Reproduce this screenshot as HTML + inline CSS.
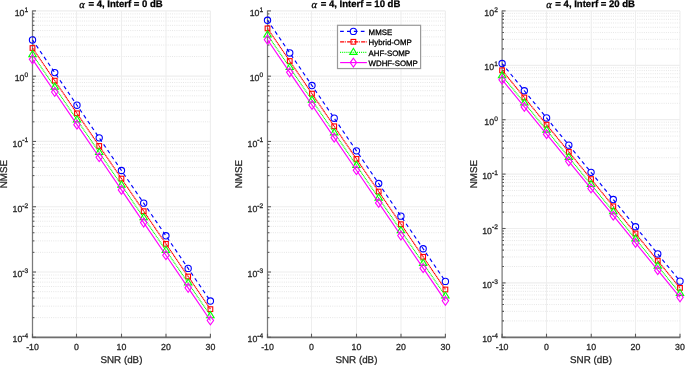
<!DOCTYPE html>
<html><head><meta charset="utf-8"><style>
html,body{margin:0;padding:0;background:#fff;width:685px;height:365px;overflow:hidden}
svg text{font-family:"Liberation Sans", sans-serif} svg{will-change:transform} svg text{text-rendering:geometricPrecision;stroke:currentColor;stroke-width:0.28px}
</style></head><body>
<svg width="685" height="365" viewBox="0 0 685 365" style="display:block">
<rect width="685" height="365" fill="#fff"/>
<line x1="33.50" y1="317.65" x2="210.40" y2="317.65" stroke="#d8d8d8" stroke-width="0.7" stroke-dasharray="0.9 1.3"/>
<line x1="33.50" y1="306.15" x2="210.40" y2="306.15" stroke="#d8d8d8" stroke-width="0.7" stroke-dasharray="0.9 1.3"/>
<line x1="33.50" y1="298.00" x2="210.40" y2="298.00" stroke="#d8d8d8" stroke-width="0.7" stroke-dasharray="0.9 1.3"/>
<line x1="33.50" y1="291.67" x2="210.40" y2="291.67" stroke="#d8d8d8" stroke-width="0.7" stroke-dasharray="0.9 1.3"/>
<line x1="33.50" y1="286.50" x2="210.40" y2="286.50" stroke="#d8d8d8" stroke-width="0.7" stroke-dasharray="0.9 1.3"/>
<line x1="33.50" y1="282.13" x2="210.40" y2="282.13" stroke="#d8d8d8" stroke-width="0.7" stroke-dasharray="0.9 1.3"/>
<line x1="33.50" y1="278.35" x2="210.40" y2="278.35" stroke="#d8d8d8" stroke-width="0.7" stroke-dasharray="0.9 1.3"/>
<line x1="33.50" y1="275.01" x2="210.40" y2="275.01" stroke="#d8d8d8" stroke-width="0.7" stroke-dasharray="0.9 1.3"/>
<line x1="33.50" y1="252.37" x2="210.40" y2="252.37" stroke="#d8d8d8" stroke-width="0.7" stroke-dasharray="0.9 1.3"/>
<line x1="33.50" y1="240.87" x2="210.40" y2="240.87" stroke="#d8d8d8" stroke-width="0.7" stroke-dasharray="0.9 1.3"/>
<line x1="33.50" y1="232.72" x2="210.40" y2="232.72" stroke="#d8d8d8" stroke-width="0.7" stroke-dasharray="0.9 1.3"/>
<line x1="33.50" y1="226.39" x2="210.40" y2="226.39" stroke="#d8d8d8" stroke-width="0.7" stroke-dasharray="0.9 1.3"/>
<line x1="33.50" y1="221.22" x2="210.40" y2="221.22" stroke="#d8d8d8" stroke-width="0.7" stroke-dasharray="0.9 1.3"/>
<line x1="33.50" y1="216.85" x2="210.40" y2="216.85" stroke="#d8d8d8" stroke-width="0.7" stroke-dasharray="0.9 1.3"/>
<line x1="33.50" y1="213.07" x2="210.40" y2="213.07" stroke="#d8d8d8" stroke-width="0.7" stroke-dasharray="0.9 1.3"/>
<line x1="33.50" y1="209.73" x2="210.40" y2="209.73" stroke="#d8d8d8" stroke-width="0.7" stroke-dasharray="0.9 1.3"/>
<line x1="33.50" y1="187.09" x2="210.40" y2="187.09" stroke="#d8d8d8" stroke-width="0.7" stroke-dasharray="0.9 1.3"/>
<line x1="33.50" y1="175.59" x2="210.40" y2="175.59" stroke="#d8d8d8" stroke-width="0.7" stroke-dasharray="0.9 1.3"/>
<line x1="33.50" y1="167.44" x2="210.40" y2="167.44" stroke="#d8d8d8" stroke-width="0.7" stroke-dasharray="0.9 1.3"/>
<line x1="33.50" y1="161.11" x2="210.40" y2="161.11" stroke="#d8d8d8" stroke-width="0.7" stroke-dasharray="0.9 1.3"/>
<line x1="33.50" y1="155.94" x2="210.40" y2="155.94" stroke="#d8d8d8" stroke-width="0.7" stroke-dasharray="0.9 1.3"/>
<line x1="33.50" y1="151.57" x2="210.40" y2="151.57" stroke="#d8d8d8" stroke-width="0.7" stroke-dasharray="0.9 1.3"/>
<line x1="33.50" y1="147.79" x2="210.40" y2="147.79" stroke="#d8d8d8" stroke-width="0.7" stroke-dasharray="0.9 1.3"/>
<line x1="33.50" y1="144.45" x2="210.40" y2="144.45" stroke="#d8d8d8" stroke-width="0.7" stroke-dasharray="0.9 1.3"/>
<line x1="33.50" y1="121.81" x2="210.40" y2="121.81" stroke="#d8d8d8" stroke-width="0.7" stroke-dasharray="0.9 1.3"/>
<line x1="33.50" y1="110.31" x2="210.40" y2="110.31" stroke="#d8d8d8" stroke-width="0.7" stroke-dasharray="0.9 1.3"/>
<line x1="33.50" y1="102.16" x2="210.40" y2="102.16" stroke="#d8d8d8" stroke-width="0.7" stroke-dasharray="0.9 1.3"/>
<line x1="33.50" y1="95.83" x2="210.40" y2="95.83" stroke="#d8d8d8" stroke-width="0.7" stroke-dasharray="0.9 1.3"/>
<line x1="33.50" y1="90.66" x2="210.40" y2="90.66" stroke="#d8d8d8" stroke-width="0.7" stroke-dasharray="0.9 1.3"/>
<line x1="33.50" y1="86.29" x2="210.40" y2="86.29" stroke="#d8d8d8" stroke-width="0.7" stroke-dasharray="0.9 1.3"/>
<line x1="33.50" y1="82.51" x2="210.40" y2="82.51" stroke="#d8d8d8" stroke-width="0.7" stroke-dasharray="0.9 1.3"/>
<line x1="33.50" y1="79.17" x2="210.40" y2="79.17" stroke="#d8d8d8" stroke-width="0.7" stroke-dasharray="0.9 1.3"/>
<line x1="33.50" y1="56.53" x2="210.40" y2="56.53" stroke="#d8d8d8" stroke-width="0.7" stroke-dasharray="0.9 1.3"/>
<line x1="33.50" y1="45.03" x2="210.40" y2="45.03" stroke="#d8d8d8" stroke-width="0.7" stroke-dasharray="0.9 1.3"/>
<line x1="33.50" y1="36.88" x2="210.40" y2="36.88" stroke="#d8d8d8" stroke-width="0.7" stroke-dasharray="0.9 1.3"/>
<line x1="33.50" y1="30.55" x2="210.40" y2="30.55" stroke="#d8d8d8" stroke-width="0.7" stroke-dasharray="0.9 1.3"/>
<line x1="33.50" y1="25.38" x2="210.40" y2="25.38" stroke="#d8d8d8" stroke-width="0.7" stroke-dasharray="0.9 1.3"/>
<line x1="33.50" y1="21.01" x2="210.40" y2="21.01" stroke="#d8d8d8" stroke-width="0.7" stroke-dasharray="0.9 1.3"/>
<line x1="33.50" y1="17.23" x2="210.40" y2="17.23" stroke="#d8d8d8" stroke-width="0.7" stroke-dasharray="0.9 1.3"/>
<line x1="33.50" y1="13.89" x2="210.40" y2="13.89" stroke="#d8d8d8" stroke-width="0.7" stroke-dasharray="0.9 1.3"/>
<line x1="32.50" y1="337.30" x2="210.40" y2="337.30" stroke="#eeeeee" stroke-width="1.2"/>
<line x1="32.50" y1="272.02" x2="210.40" y2="272.02" stroke="#eeeeee" stroke-width="1.2"/>
<line x1="32.50" y1="206.74" x2="210.40" y2="206.74" stroke="#eeeeee" stroke-width="1.2"/>
<line x1="32.50" y1="141.46" x2="210.40" y2="141.46" stroke="#eeeeee" stroke-width="1.2"/>
<line x1="32.50" y1="76.18" x2="210.40" y2="76.18" stroke="#eeeeee" stroke-width="1.2"/>
<line x1="32.50" y1="10.90" x2="210.40" y2="10.90" stroke="#eeeeee" stroke-width="1.2"/>
<line x1="76.50" y1="10.90" x2="76.50" y2="337.30" stroke="#eeeeee" stroke-width="1.1"/>
<line x1="121.50" y1="10.90" x2="121.50" y2="337.30" stroke="#eeeeee" stroke-width="1.1"/>
<line x1="166.00" y1="10.90" x2="166.00" y2="337.30" stroke="#eeeeee" stroke-width="1.1"/>
<line x1="210.40" y1="10.90" x2="210.40" y2="337.30" stroke="#eeeeee" stroke-width="1.1"/>
<line x1="32.50" y1="10.60" x2="32.50" y2="337.90" stroke="#7a7a7a" stroke-width="1.25"/>
<line x1="31.90" y1="337.40" x2="210.80" y2="337.40" stroke="#6e6e6e" stroke-width="1.6"/>
<line x1="32.50" y1="337.30" x2="36.00" y2="337.30" stroke="#5a5a5a" stroke-width="1.1"/>
<line x1="32.50" y1="317.65" x2="34.40" y2="317.65" stroke="#5a5a5a" stroke-width="1.1"/>
<line x1="32.50" y1="306.15" x2="34.40" y2="306.15" stroke="#5a5a5a" stroke-width="1.1"/>
<line x1="32.50" y1="298.00" x2="34.40" y2="298.00" stroke="#5a5a5a" stroke-width="1.1"/>
<line x1="32.50" y1="291.67" x2="34.40" y2="291.67" stroke="#5a5a5a" stroke-width="1.1"/>
<line x1="32.50" y1="286.50" x2="34.40" y2="286.50" stroke="#5a5a5a" stroke-width="1.1"/>
<line x1="32.50" y1="282.13" x2="34.40" y2="282.13" stroke="#5a5a5a" stroke-width="1.1"/>
<line x1="32.50" y1="278.35" x2="34.40" y2="278.35" stroke="#5a5a5a" stroke-width="1.1"/>
<line x1="32.50" y1="275.01" x2="34.40" y2="275.01" stroke="#5a5a5a" stroke-width="1.1"/>
<text x="28.20" y="342.40" text-anchor="end" font-size="8.8" fill="#262626" color="#262626">10<tspan font-size="6.6" dy="-4.2"><tspan style="stroke-width:0.55px">-</tspan>4</tspan></text>
<line x1="32.50" y1="272.02" x2="36.00" y2="272.02" stroke="#5a5a5a" stroke-width="1.1"/>
<line x1="32.50" y1="252.37" x2="34.40" y2="252.37" stroke="#5a5a5a" stroke-width="1.1"/>
<line x1="32.50" y1="240.87" x2="34.40" y2="240.87" stroke="#5a5a5a" stroke-width="1.1"/>
<line x1="32.50" y1="232.72" x2="34.40" y2="232.72" stroke="#5a5a5a" stroke-width="1.1"/>
<line x1="32.50" y1="226.39" x2="34.40" y2="226.39" stroke="#5a5a5a" stroke-width="1.1"/>
<line x1="32.50" y1="221.22" x2="34.40" y2="221.22" stroke="#5a5a5a" stroke-width="1.1"/>
<line x1="32.50" y1="216.85" x2="34.40" y2="216.85" stroke="#5a5a5a" stroke-width="1.1"/>
<line x1="32.50" y1="213.07" x2="34.40" y2="213.07" stroke="#5a5a5a" stroke-width="1.1"/>
<line x1="32.50" y1="209.73" x2="34.40" y2="209.73" stroke="#5a5a5a" stroke-width="1.1"/>
<text x="28.20" y="277.12" text-anchor="end" font-size="8.8" fill="#262626" color="#262626">10<tspan font-size="6.6" dy="-4.2"><tspan style="stroke-width:0.55px">-</tspan>3</tspan></text>
<line x1="32.50" y1="206.74" x2="36.00" y2="206.74" stroke="#5a5a5a" stroke-width="1.1"/>
<line x1="32.50" y1="187.09" x2="34.40" y2="187.09" stroke="#5a5a5a" stroke-width="1.1"/>
<line x1="32.50" y1="175.59" x2="34.40" y2="175.59" stroke="#5a5a5a" stroke-width="1.1"/>
<line x1="32.50" y1="167.44" x2="34.40" y2="167.44" stroke="#5a5a5a" stroke-width="1.1"/>
<line x1="32.50" y1="161.11" x2="34.40" y2="161.11" stroke="#5a5a5a" stroke-width="1.1"/>
<line x1="32.50" y1="155.94" x2="34.40" y2="155.94" stroke="#5a5a5a" stroke-width="1.1"/>
<line x1="32.50" y1="151.57" x2="34.40" y2="151.57" stroke="#5a5a5a" stroke-width="1.1"/>
<line x1="32.50" y1="147.79" x2="34.40" y2="147.79" stroke="#5a5a5a" stroke-width="1.1"/>
<line x1="32.50" y1="144.45" x2="34.40" y2="144.45" stroke="#5a5a5a" stroke-width="1.1"/>
<text x="28.20" y="211.84" text-anchor="end" font-size="8.8" fill="#262626" color="#262626">10<tspan font-size="6.6" dy="-4.2"><tspan style="stroke-width:0.55px">-</tspan>2</tspan></text>
<line x1="32.50" y1="141.46" x2="36.00" y2="141.46" stroke="#5a5a5a" stroke-width="1.1"/>
<line x1="32.50" y1="121.81" x2="34.40" y2="121.81" stroke="#5a5a5a" stroke-width="1.1"/>
<line x1="32.50" y1="110.31" x2="34.40" y2="110.31" stroke="#5a5a5a" stroke-width="1.1"/>
<line x1="32.50" y1="102.16" x2="34.40" y2="102.16" stroke="#5a5a5a" stroke-width="1.1"/>
<line x1="32.50" y1="95.83" x2="34.40" y2="95.83" stroke="#5a5a5a" stroke-width="1.1"/>
<line x1="32.50" y1="90.66" x2="34.40" y2="90.66" stroke="#5a5a5a" stroke-width="1.1"/>
<line x1="32.50" y1="86.29" x2="34.40" y2="86.29" stroke="#5a5a5a" stroke-width="1.1"/>
<line x1="32.50" y1="82.51" x2="34.40" y2="82.51" stroke="#5a5a5a" stroke-width="1.1"/>
<line x1="32.50" y1="79.17" x2="34.40" y2="79.17" stroke="#5a5a5a" stroke-width="1.1"/>
<text x="28.20" y="146.56" text-anchor="end" font-size="8.8" fill="#262626" color="#262626">10<tspan font-size="6.6" dy="-4.2"><tspan style="stroke-width:0.55px">-</tspan>1</tspan></text>
<line x1="32.50" y1="76.18" x2="36.00" y2="76.18" stroke="#5a5a5a" stroke-width="1.1"/>
<line x1="32.50" y1="56.53" x2="34.40" y2="56.53" stroke="#5a5a5a" stroke-width="1.1"/>
<line x1="32.50" y1="45.03" x2="34.40" y2="45.03" stroke="#5a5a5a" stroke-width="1.1"/>
<line x1="32.50" y1="36.88" x2="34.40" y2="36.88" stroke="#5a5a5a" stroke-width="1.1"/>
<line x1="32.50" y1="30.55" x2="34.40" y2="30.55" stroke="#5a5a5a" stroke-width="1.1"/>
<line x1="32.50" y1="25.38" x2="34.40" y2="25.38" stroke="#5a5a5a" stroke-width="1.1"/>
<line x1="32.50" y1="21.01" x2="34.40" y2="21.01" stroke="#5a5a5a" stroke-width="1.1"/>
<line x1="32.50" y1="17.23" x2="34.40" y2="17.23" stroke="#5a5a5a" stroke-width="1.1"/>
<line x1="32.50" y1="13.89" x2="34.40" y2="13.89" stroke="#5a5a5a" stroke-width="1.1"/>
<text x="28.20" y="81.28" text-anchor="end" font-size="8.8" fill="#262626" color="#262626">10<tspan font-size="6.6" dy="-4.2">0</tspan></text>
<line x1="32.50" y1="10.90" x2="36.00" y2="10.90" stroke="#5a5a5a" stroke-width="1.1"/>
<text x="28.20" y="16.00" text-anchor="end" font-size="8.8" fill="#262626" color="#262626">10<tspan font-size="6.6" dy="-4.2">1</tspan></text>
<line x1="32.50" y1="337.30" x2="32.50" y2="333.70" stroke="#5a5a5a" stroke-width="1.1"/>
<text x="32.50" y="349.50" text-anchor="middle" font-size="8.8" fill="#262626" color="#262626">-10</text>
<line x1="76.50" y1="337.30" x2="76.50" y2="333.70" stroke="#5a5a5a" stroke-width="1.1"/>
<text x="76.50" y="349.50" text-anchor="middle" font-size="8.8" fill="#262626" color="#262626">0</text>
<line x1="121.50" y1="337.30" x2="121.50" y2="333.70" stroke="#5a5a5a" stroke-width="1.1"/>
<text x="121.50" y="349.50" text-anchor="middle" font-size="8.8" fill="#262626" color="#262626">10</text>
<line x1="166.00" y1="337.30" x2="166.00" y2="333.70" stroke="#5a5a5a" stroke-width="1.1"/>
<text x="166.00" y="349.50" text-anchor="middle" font-size="8.8" fill="#262626" color="#262626">20</text>
<line x1="210.40" y1="337.30" x2="210.40" y2="333.70" stroke="#5a5a5a" stroke-width="1.1"/>
<text x="210.40" y="349.50" text-anchor="middle" font-size="8.8" fill="#262626" color="#262626">30</text>
<text x="121.45" y="362.6" text-anchor="middle" font-size="9.8" fill="#262626" color="#262626">SNR (dB)</text>
<text transform="translate(7.00,174.10) rotate(-90)" text-anchor="middle" font-size="9.8" fill="#262626" color="#262626">NMSE</text>
<text x="120.95" y="7.1" text-anchor="middle" font-size="9.55" font-weight="bold" fill="#000" color="#000"><tspan font-family="Liberation Serif" font-style="italic" font-weight="normal" font-size="10.6" dy="0.8">α</tspan><tspan dy="-0.8" dx="1.0"> = 4, Interf = 0 dB</tspan></text>
<polyline points="32.50,39.94 54.74,72.58 76.97,105.22 99.21,137.86 121.45,170.50 143.69,203.14 165.93,235.78 188.16,268.42 210.40,301.06" fill="none" stroke="#0000ff" stroke-width="1.15" stroke-dasharray="3.8 3.25" stroke-dashoffset="0.6"/>
<circle cx="32.50" cy="39.94" r="3.15" fill="none" stroke="#0000ff" stroke-width="1.1"/>
<circle cx="54.74" cy="72.58" r="3.15" fill="none" stroke="#0000ff" stroke-width="1.1"/>
<circle cx="76.97" cy="105.22" r="3.15" fill="none" stroke="#0000ff" stroke-width="1.1"/>
<circle cx="99.21" cy="137.86" r="3.15" fill="none" stroke="#0000ff" stroke-width="1.1"/>
<circle cx="121.45" cy="170.50" r="3.15" fill="none" stroke="#0000ff" stroke-width="1.1"/>
<circle cx="143.69" cy="203.14" r="3.15" fill="none" stroke="#0000ff" stroke-width="1.1"/>
<circle cx="165.93" cy="235.78" r="3.15" fill="none" stroke="#0000ff" stroke-width="1.1"/>
<circle cx="188.16" cy="268.42" r="3.15" fill="none" stroke="#0000ff" stroke-width="1.1"/>
<circle cx="210.40" cy="301.06" r="3.15" fill="none" stroke="#0000ff" stroke-width="1.1"/>
<polyline points="32.50,48.02 54.74,80.66 76.97,113.30 99.21,145.94 121.45,178.58 143.69,211.22 165.93,243.86 188.16,276.50 210.40,309.14" fill="none" stroke="#ff0000" stroke-width="1.15" stroke-dasharray="1.4 0.45"/>
<rect x="30.15" y="45.67" width="4.7" height="4.7" fill="none" stroke="#ff0000" stroke-width="1.1"/>
<rect x="52.39" y="78.31" width="4.7" height="4.7" fill="none" stroke="#ff0000" stroke-width="1.1"/>
<rect x="74.62" y="110.95" width="4.7" height="4.7" fill="none" stroke="#ff0000" stroke-width="1.1"/>
<rect x="96.86" y="143.59" width="4.7" height="4.7" fill="none" stroke="#ff0000" stroke-width="1.1"/>
<rect x="119.10" y="176.23" width="4.7" height="4.7" fill="none" stroke="#ff0000" stroke-width="1.1"/>
<rect x="141.34" y="208.87" width="4.7" height="4.7" fill="none" stroke="#ff0000" stroke-width="1.1"/>
<rect x="163.58" y="241.51" width="4.7" height="4.7" fill="none" stroke="#ff0000" stroke-width="1.1"/>
<rect x="185.81" y="274.15" width="4.7" height="4.7" fill="none" stroke="#ff0000" stroke-width="1.1"/>
<rect x="208.05" y="306.79" width="4.7" height="4.7" fill="none" stroke="#ff0000" stroke-width="1.1"/>
<polyline points="32.50,54.48 54.74,87.12 76.97,119.76 99.21,152.40 121.45,185.04 143.69,217.68 165.93,250.32 188.16,282.96 210.40,315.60" fill="none" stroke="#00ff00" stroke-width="1.15" stroke-dasharray="1 0.65"/>
<polygon points="32.50,50.48 36.20,56.58 28.80,56.58" fill="none" stroke="#00ff00" stroke-width="1.1" stroke-linejoin="miter"/>
<polygon points="54.74,83.12 58.44,89.22 51.04,89.22" fill="none" stroke="#00ff00" stroke-width="1.1" stroke-linejoin="miter"/>
<polygon points="76.97,115.76 80.67,121.86 73.27,121.86" fill="none" stroke="#00ff00" stroke-width="1.1" stroke-linejoin="miter"/>
<polygon points="99.21,148.40 102.91,154.50 95.51,154.50" fill="none" stroke="#00ff00" stroke-width="1.1" stroke-linejoin="miter"/>
<polygon points="121.45,181.04 125.15,187.14 117.75,187.14" fill="none" stroke="#00ff00" stroke-width="1.1" stroke-linejoin="miter"/>
<polygon points="143.69,213.68 147.39,219.78 139.99,219.78" fill="none" stroke="#00ff00" stroke-width="1.1" stroke-linejoin="miter"/>
<polygon points="165.93,246.32 169.62,252.42 162.23,252.42" fill="none" stroke="#00ff00" stroke-width="1.1" stroke-linejoin="miter"/>
<polygon points="188.16,278.96 191.86,285.06 184.46,285.06" fill="none" stroke="#00ff00" stroke-width="1.1" stroke-linejoin="miter"/>
<polygon points="210.40,311.60 214.10,317.70 206.70,317.70" fill="none" stroke="#00ff00" stroke-width="1.1" stroke-linejoin="miter"/>
<polyline points="32.50,59.36 54.74,92.00 76.97,124.64 99.21,157.28 121.45,189.92 143.69,222.56 165.93,255.20 188.16,287.84 210.40,320.48" fill="none" stroke="#ff00ff" stroke-width="1.15"/>
<polygon points="32.50,54.96 35.70,59.36 32.50,63.76 29.30,59.36" fill="none" stroke="#ff00ff" stroke-width="1.1"/>
<polygon points="54.74,87.60 57.94,92.00 54.74,96.40 51.54,92.00" fill="none" stroke="#ff00ff" stroke-width="1.1"/>
<polygon points="76.97,120.24 80.17,124.64 76.97,129.04 73.77,124.64" fill="none" stroke="#ff00ff" stroke-width="1.1"/>
<polygon points="99.21,152.88 102.41,157.28 99.21,161.68 96.01,157.28" fill="none" stroke="#ff00ff" stroke-width="1.1"/>
<polygon points="121.45,185.52 124.65,189.92 121.45,194.32 118.25,189.92" fill="none" stroke="#ff00ff" stroke-width="1.1"/>
<polygon points="143.69,218.16 146.89,222.56 143.69,226.96 140.49,222.56" fill="none" stroke="#ff00ff" stroke-width="1.1"/>
<polygon points="165.93,250.80 169.12,255.20 165.93,259.60 162.73,255.20" fill="none" stroke="#ff00ff" stroke-width="1.1"/>
<polygon points="188.16,283.44 191.36,287.84 188.16,292.24 184.96,287.84" fill="none" stroke="#ff00ff" stroke-width="1.1"/>
<polygon points="210.40,316.08 213.60,320.48 210.40,324.88 207.20,320.48" fill="none" stroke="#ff00ff" stroke-width="1.1"/>
<line x1="268.50" y1="317.65" x2="445.40" y2="317.65" stroke="#d8d8d8" stroke-width="0.7" stroke-dasharray="0.9 1.3"/>
<line x1="268.50" y1="306.15" x2="445.40" y2="306.15" stroke="#d8d8d8" stroke-width="0.7" stroke-dasharray="0.9 1.3"/>
<line x1="268.50" y1="298.00" x2="445.40" y2="298.00" stroke="#d8d8d8" stroke-width="0.7" stroke-dasharray="0.9 1.3"/>
<line x1="268.50" y1="291.67" x2="445.40" y2="291.67" stroke="#d8d8d8" stroke-width="0.7" stroke-dasharray="0.9 1.3"/>
<line x1="268.50" y1="286.50" x2="445.40" y2="286.50" stroke="#d8d8d8" stroke-width="0.7" stroke-dasharray="0.9 1.3"/>
<line x1="268.50" y1="282.13" x2="445.40" y2="282.13" stroke="#d8d8d8" stroke-width="0.7" stroke-dasharray="0.9 1.3"/>
<line x1="268.50" y1="278.35" x2="445.40" y2="278.35" stroke="#d8d8d8" stroke-width="0.7" stroke-dasharray="0.9 1.3"/>
<line x1="268.50" y1="275.01" x2="445.40" y2="275.01" stroke="#d8d8d8" stroke-width="0.7" stroke-dasharray="0.9 1.3"/>
<line x1="268.50" y1="252.37" x2="445.40" y2="252.37" stroke="#d8d8d8" stroke-width="0.7" stroke-dasharray="0.9 1.3"/>
<line x1="268.50" y1="240.87" x2="445.40" y2="240.87" stroke="#d8d8d8" stroke-width="0.7" stroke-dasharray="0.9 1.3"/>
<line x1="268.50" y1="232.72" x2="445.40" y2="232.72" stroke="#d8d8d8" stroke-width="0.7" stroke-dasharray="0.9 1.3"/>
<line x1="268.50" y1="226.39" x2="445.40" y2="226.39" stroke="#d8d8d8" stroke-width="0.7" stroke-dasharray="0.9 1.3"/>
<line x1="268.50" y1="221.22" x2="445.40" y2="221.22" stroke="#d8d8d8" stroke-width="0.7" stroke-dasharray="0.9 1.3"/>
<line x1="268.50" y1="216.85" x2="445.40" y2="216.85" stroke="#d8d8d8" stroke-width="0.7" stroke-dasharray="0.9 1.3"/>
<line x1="268.50" y1="213.07" x2="445.40" y2="213.07" stroke="#d8d8d8" stroke-width="0.7" stroke-dasharray="0.9 1.3"/>
<line x1="268.50" y1="209.73" x2="445.40" y2="209.73" stroke="#d8d8d8" stroke-width="0.7" stroke-dasharray="0.9 1.3"/>
<line x1="268.50" y1="187.09" x2="445.40" y2="187.09" stroke="#d8d8d8" stroke-width="0.7" stroke-dasharray="0.9 1.3"/>
<line x1="268.50" y1="175.59" x2="445.40" y2="175.59" stroke="#d8d8d8" stroke-width="0.7" stroke-dasharray="0.9 1.3"/>
<line x1="268.50" y1="167.44" x2="445.40" y2="167.44" stroke="#d8d8d8" stroke-width="0.7" stroke-dasharray="0.9 1.3"/>
<line x1="268.50" y1="161.11" x2="445.40" y2="161.11" stroke="#d8d8d8" stroke-width="0.7" stroke-dasharray="0.9 1.3"/>
<line x1="268.50" y1="155.94" x2="445.40" y2="155.94" stroke="#d8d8d8" stroke-width="0.7" stroke-dasharray="0.9 1.3"/>
<line x1="268.50" y1="151.57" x2="445.40" y2="151.57" stroke="#d8d8d8" stroke-width="0.7" stroke-dasharray="0.9 1.3"/>
<line x1="268.50" y1="147.79" x2="445.40" y2="147.79" stroke="#d8d8d8" stroke-width="0.7" stroke-dasharray="0.9 1.3"/>
<line x1="268.50" y1="144.45" x2="445.40" y2="144.45" stroke="#d8d8d8" stroke-width="0.7" stroke-dasharray="0.9 1.3"/>
<line x1="268.50" y1="121.81" x2="445.40" y2="121.81" stroke="#d8d8d8" stroke-width="0.7" stroke-dasharray="0.9 1.3"/>
<line x1="268.50" y1="110.31" x2="445.40" y2="110.31" stroke="#d8d8d8" stroke-width="0.7" stroke-dasharray="0.9 1.3"/>
<line x1="268.50" y1="102.16" x2="445.40" y2="102.16" stroke="#d8d8d8" stroke-width="0.7" stroke-dasharray="0.9 1.3"/>
<line x1="268.50" y1="95.83" x2="445.40" y2="95.83" stroke="#d8d8d8" stroke-width="0.7" stroke-dasharray="0.9 1.3"/>
<line x1="268.50" y1="90.66" x2="445.40" y2="90.66" stroke="#d8d8d8" stroke-width="0.7" stroke-dasharray="0.9 1.3"/>
<line x1="268.50" y1="86.29" x2="445.40" y2="86.29" stroke="#d8d8d8" stroke-width="0.7" stroke-dasharray="0.9 1.3"/>
<line x1="268.50" y1="82.51" x2="445.40" y2="82.51" stroke="#d8d8d8" stroke-width="0.7" stroke-dasharray="0.9 1.3"/>
<line x1="268.50" y1="79.17" x2="445.40" y2="79.17" stroke="#d8d8d8" stroke-width="0.7" stroke-dasharray="0.9 1.3"/>
<line x1="268.50" y1="56.53" x2="445.40" y2="56.53" stroke="#d8d8d8" stroke-width="0.7" stroke-dasharray="0.9 1.3"/>
<line x1="268.50" y1="45.03" x2="445.40" y2="45.03" stroke="#d8d8d8" stroke-width="0.7" stroke-dasharray="0.9 1.3"/>
<line x1="268.50" y1="36.88" x2="445.40" y2="36.88" stroke="#d8d8d8" stroke-width="0.7" stroke-dasharray="0.9 1.3"/>
<line x1="268.50" y1="30.55" x2="445.40" y2="30.55" stroke="#d8d8d8" stroke-width="0.7" stroke-dasharray="0.9 1.3"/>
<line x1="268.50" y1="25.38" x2="445.40" y2="25.38" stroke="#d8d8d8" stroke-width="0.7" stroke-dasharray="0.9 1.3"/>
<line x1="268.50" y1="21.01" x2="445.40" y2="21.01" stroke="#d8d8d8" stroke-width="0.7" stroke-dasharray="0.9 1.3"/>
<line x1="268.50" y1="17.23" x2="445.40" y2="17.23" stroke="#d8d8d8" stroke-width="0.7" stroke-dasharray="0.9 1.3"/>
<line x1="268.50" y1="13.89" x2="445.40" y2="13.89" stroke="#d8d8d8" stroke-width="0.7" stroke-dasharray="0.9 1.3"/>
<line x1="267.50" y1="337.30" x2="445.40" y2="337.30" stroke="#eeeeee" stroke-width="1.2"/>
<line x1="267.50" y1="272.02" x2="445.40" y2="272.02" stroke="#eeeeee" stroke-width="1.2"/>
<line x1="267.50" y1="206.74" x2="445.40" y2="206.74" stroke="#eeeeee" stroke-width="1.2"/>
<line x1="267.50" y1="141.46" x2="445.40" y2="141.46" stroke="#eeeeee" stroke-width="1.2"/>
<line x1="267.50" y1="76.18" x2="445.40" y2="76.18" stroke="#eeeeee" stroke-width="1.2"/>
<line x1="267.50" y1="10.90" x2="445.40" y2="10.90" stroke="#eeeeee" stroke-width="1.2"/>
<line x1="311.50" y1="10.90" x2="311.50" y2="337.30" stroke="#eeeeee" stroke-width="1.1"/>
<line x1="356.50" y1="10.90" x2="356.50" y2="337.30" stroke="#eeeeee" stroke-width="1.1"/>
<line x1="401.00" y1="10.90" x2="401.00" y2="337.30" stroke="#eeeeee" stroke-width="1.1"/>
<line x1="445.40" y1="10.90" x2="445.40" y2="337.30" stroke="#eeeeee" stroke-width="1.1"/>
<line x1="267.50" y1="10.60" x2="267.50" y2="337.90" stroke="#7a7a7a" stroke-width="1.25"/>
<line x1="266.90" y1="337.40" x2="445.80" y2="337.40" stroke="#6e6e6e" stroke-width="1.6"/>
<line x1="267.50" y1="337.30" x2="271.00" y2="337.30" stroke="#5a5a5a" stroke-width="1.1"/>
<line x1="267.50" y1="317.65" x2="269.40" y2="317.65" stroke="#5a5a5a" stroke-width="1.1"/>
<line x1="267.50" y1="306.15" x2="269.40" y2="306.15" stroke="#5a5a5a" stroke-width="1.1"/>
<line x1="267.50" y1="298.00" x2="269.40" y2="298.00" stroke="#5a5a5a" stroke-width="1.1"/>
<line x1="267.50" y1="291.67" x2="269.40" y2="291.67" stroke="#5a5a5a" stroke-width="1.1"/>
<line x1="267.50" y1="286.50" x2="269.40" y2="286.50" stroke="#5a5a5a" stroke-width="1.1"/>
<line x1="267.50" y1="282.13" x2="269.40" y2="282.13" stroke="#5a5a5a" stroke-width="1.1"/>
<line x1="267.50" y1="278.35" x2="269.40" y2="278.35" stroke="#5a5a5a" stroke-width="1.1"/>
<line x1="267.50" y1="275.01" x2="269.40" y2="275.01" stroke="#5a5a5a" stroke-width="1.1"/>
<text x="263.20" y="342.40" text-anchor="end" font-size="8.8" fill="#262626" color="#262626">10<tspan font-size="6.6" dy="-4.2"><tspan style="stroke-width:0.55px">-</tspan>4</tspan></text>
<line x1="267.50" y1="272.02" x2="271.00" y2="272.02" stroke="#5a5a5a" stroke-width="1.1"/>
<line x1="267.50" y1="252.37" x2="269.40" y2="252.37" stroke="#5a5a5a" stroke-width="1.1"/>
<line x1="267.50" y1="240.87" x2="269.40" y2="240.87" stroke="#5a5a5a" stroke-width="1.1"/>
<line x1="267.50" y1="232.72" x2="269.40" y2="232.72" stroke="#5a5a5a" stroke-width="1.1"/>
<line x1="267.50" y1="226.39" x2="269.40" y2="226.39" stroke="#5a5a5a" stroke-width="1.1"/>
<line x1="267.50" y1="221.22" x2="269.40" y2="221.22" stroke="#5a5a5a" stroke-width="1.1"/>
<line x1="267.50" y1="216.85" x2="269.40" y2="216.85" stroke="#5a5a5a" stroke-width="1.1"/>
<line x1="267.50" y1="213.07" x2="269.40" y2="213.07" stroke="#5a5a5a" stroke-width="1.1"/>
<line x1="267.50" y1="209.73" x2="269.40" y2="209.73" stroke="#5a5a5a" stroke-width="1.1"/>
<text x="263.20" y="277.12" text-anchor="end" font-size="8.8" fill="#262626" color="#262626">10<tspan font-size="6.6" dy="-4.2"><tspan style="stroke-width:0.55px">-</tspan>3</tspan></text>
<line x1="267.50" y1="206.74" x2="271.00" y2="206.74" stroke="#5a5a5a" stroke-width="1.1"/>
<line x1="267.50" y1="187.09" x2="269.40" y2="187.09" stroke="#5a5a5a" stroke-width="1.1"/>
<line x1="267.50" y1="175.59" x2="269.40" y2="175.59" stroke="#5a5a5a" stroke-width="1.1"/>
<line x1="267.50" y1="167.44" x2="269.40" y2="167.44" stroke="#5a5a5a" stroke-width="1.1"/>
<line x1="267.50" y1="161.11" x2="269.40" y2="161.11" stroke="#5a5a5a" stroke-width="1.1"/>
<line x1="267.50" y1="155.94" x2="269.40" y2="155.94" stroke="#5a5a5a" stroke-width="1.1"/>
<line x1="267.50" y1="151.57" x2="269.40" y2="151.57" stroke="#5a5a5a" stroke-width="1.1"/>
<line x1="267.50" y1="147.79" x2="269.40" y2="147.79" stroke="#5a5a5a" stroke-width="1.1"/>
<line x1="267.50" y1="144.45" x2="269.40" y2="144.45" stroke="#5a5a5a" stroke-width="1.1"/>
<text x="263.20" y="211.84" text-anchor="end" font-size="8.8" fill="#262626" color="#262626">10<tspan font-size="6.6" dy="-4.2"><tspan style="stroke-width:0.55px">-</tspan>2</tspan></text>
<line x1="267.50" y1="141.46" x2="271.00" y2="141.46" stroke="#5a5a5a" stroke-width="1.1"/>
<line x1="267.50" y1="121.81" x2="269.40" y2="121.81" stroke="#5a5a5a" stroke-width="1.1"/>
<line x1="267.50" y1="110.31" x2="269.40" y2="110.31" stroke="#5a5a5a" stroke-width="1.1"/>
<line x1="267.50" y1="102.16" x2="269.40" y2="102.16" stroke="#5a5a5a" stroke-width="1.1"/>
<line x1="267.50" y1="95.83" x2="269.40" y2="95.83" stroke="#5a5a5a" stroke-width="1.1"/>
<line x1="267.50" y1="90.66" x2="269.40" y2="90.66" stroke="#5a5a5a" stroke-width="1.1"/>
<line x1="267.50" y1="86.29" x2="269.40" y2="86.29" stroke="#5a5a5a" stroke-width="1.1"/>
<line x1="267.50" y1="82.51" x2="269.40" y2="82.51" stroke="#5a5a5a" stroke-width="1.1"/>
<line x1="267.50" y1="79.17" x2="269.40" y2="79.17" stroke="#5a5a5a" stroke-width="1.1"/>
<text x="263.20" y="146.56" text-anchor="end" font-size="8.8" fill="#262626" color="#262626">10<tspan font-size="6.6" dy="-4.2"><tspan style="stroke-width:0.55px">-</tspan>1</tspan></text>
<line x1="267.50" y1="76.18" x2="271.00" y2="76.18" stroke="#5a5a5a" stroke-width="1.1"/>
<line x1="267.50" y1="56.53" x2="269.40" y2="56.53" stroke="#5a5a5a" stroke-width="1.1"/>
<line x1="267.50" y1="45.03" x2="269.40" y2="45.03" stroke="#5a5a5a" stroke-width="1.1"/>
<line x1="267.50" y1="36.88" x2="269.40" y2="36.88" stroke="#5a5a5a" stroke-width="1.1"/>
<line x1="267.50" y1="30.55" x2="269.40" y2="30.55" stroke="#5a5a5a" stroke-width="1.1"/>
<line x1="267.50" y1="25.38" x2="269.40" y2="25.38" stroke="#5a5a5a" stroke-width="1.1"/>
<line x1="267.50" y1="21.01" x2="269.40" y2="21.01" stroke="#5a5a5a" stroke-width="1.1"/>
<line x1="267.50" y1="17.23" x2="269.40" y2="17.23" stroke="#5a5a5a" stroke-width="1.1"/>
<line x1="267.50" y1="13.89" x2="269.40" y2="13.89" stroke="#5a5a5a" stroke-width="1.1"/>
<text x="263.20" y="81.28" text-anchor="end" font-size="8.8" fill="#262626" color="#262626">10<tspan font-size="6.6" dy="-4.2">0</tspan></text>
<line x1="267.50" y1="10.90" x2="271.00" y2="10.90" stroke="#5a5a5a" stroke-width="1.1"/>
<text x="263.20" y="16.00" text-anchor="end" font-size="8.8" fill="#262626" color="#262626">10<tspan font-size="6.6" dy="-4.2">1</tspan></text>
<line x1="267.50" y1="337.30" x2="267.50" y2="333.70" stroke="#5a5a5a" stroke-width="1.1"/>
<text x="267.50" y="349.50" text-anchor="middle" font-size="8.8" fill="#262626" color="#262626">-10</text>
<line x1="311.50" y1="337.30" x2="311.50" y2="333.70" stroke="#5a5a5a" stroke-width="1.1"/>
<text x="311.50" y="349.50" text-anchor="middle" font-size="8.8" fill="#262626" color="#262626">0</text>
<line x1="356.50" y1="337.30" x2="356.50" y2="333.70" stroke="#5a5a5a" stroke-width="1.1"/>
<text x="356.50" y="349.50" text-anchor="middle" font-size="8.8" fill="#262626" color="#262626">10</text>
<line x1="401.00" y1="337.30" x2="401.00" y2="333.70" stroke="#5a5a5a" stroke-width="1.1"/>
<text x="401.00" y="349.50" text-anchor="middle" font-size="8.8" fill="#262626" color="#262626">20</text>
<line x1="445.40" y1="337.30" x2="445.40" y2="333.70" stroke="#5a5a5a" stroke-width="1.1"/>
<text x="445.40" y="349.50" text-anchor="middle" font-size="8.8" fill="#262626" color="#262626">30</text>
<text x="356.45" y="362.6" text-anchor="middle" font-size="9.8" fill="#262626" color="#262626">SNR (dB)</text>
<text transform="translate(242.00,174.10) rotate(-90)" text-anchor="middle" font-size="9.8" fill="#262626" color="#262626">NMSE</text>
<text x="355.95" y="7.1" text-anchor="middle" font-size="9.55" font-weight="bold" fill="#000" color="#000"><tspan font-family="Liberation Serif" font-style="italic" font-weight="normal" font-size="10.6" dy="0.8">α</tspan><tspan dy="-0.8" dx="1.0"> = 4, Interf = 10 dB</tspan></text>
<polyline points="267.50,20.29 289.74,52.93 311.98,85.57 334.21,118.21 356.45,150.85 378.69,183.49 400.93,216.13 423.16,248.77 445.40,281.41" fill="none" stroke="#0000ff" stroke-width="1.15" stroke-dasharray="3.8 3.25" stroke-dashoffset="0.6"/>
<circle cx="267.50" cy="20.29" r="3.15" fill="none" stroke="#0000ff" stroke-width="1.1"/>
<circle cx="289.74" cy="52.93" r="3.15" fill="none" stroke="#0000ff" stroke-width="1.1"/>
<circle cx="311.98" cy="85.57" r="3.15" fill="none" stroke="#0000ff" stroke-width="1.1"/>
<circle cx="334.21" cy="118.21" r="3.15" fill="none" stroke="#0000ff" stroke-width="1.1"/>
<circle cx="356.45" cy="150.85" r="3.15" fill="none" stroke="#0000ff" stroke-width="1.1"/>
<circle cx="378.69" cy="183.49" r="3.15" fill="none" stroke="#0000ff" stroke-width="1.1"/>
<circle cx="400.93" cy="216.13" r="3.15" fill="none" stroke="#0000ff" stroke-width="1.1"/>
<circle cx="423.16" cy="248.77" r="3.15" fill="none" stroke="#0000ff" stroke-width="1.1"/>
<circle cx="445.40" cy="281.41" r="3.15" fill="none" stroke="#0000ff" stroke-width="1.1"/>
<polyline points="267.50,28.37 289.74,61.01 311.98,93.65 334.21,126.29 356.45,158.93 378.69,191.57 400.93,224.21 423.16,256.85 445.40,289.49" fill="none" stroke="#ff0000" stroke-width="1.15" stroke-dasharray="1.4 0.45"/>
<rect x="265.15" y="26.02" width="4.7" height="4.7" fill="none" stroke="#ff0000" stroke-width="1.1"/>
<rect x="287.39" y="58.66" width="4.7" height="4.7" fill="none" stroke="#ff0000" stroke-width="1.1"/>
<rect x="309.62" y="91.30" width="4.7" height="4.7" fill="none" stroke="#ff0000" stroke-width="1.1"/>
<rect x="331.86" y="123.94" width="4.7" height="4.7" fill="none" stroke="#ff0000" stroke-width="1.1"/>
<rect x="354.10" y="156.58" width="4.7" height="4.7" fill="none" stroke="#ff0000" stroke-width="1.1"/>
<rect x="376.34" y="189.22" width="4.7" height="4.7" fill="none" stroke="#ff0000" stroke-width="1.1"/>
<rect x="398.57" y="221.86" width="4.7" height="4.7" fill="none" stroke="#ff0000" stroke-width="1.1"/>
<rect x="420.81" y="254.50" width="4.7" height="4.7" fill="none" stroke="#ff0000" stroke-width="1.1"/>
<rect x="443.05" y="287.14" width="4.7" height="4.7" fill="none" stroke="#ff0000" stroke-width="1.1"/>
<polyline points="267.50,34.83 289.74,67.47 311.98,100.11 334.21,132.75 356.45,165.39 378.69,198.03 400.93,230.67 423.16,263.31 445.40,295.95" fill="none" stroke="#00ff00" stroke-width="1.15" stroke-dasharray="1 0.65"/>
<polygon points="267.50,30.83 271.20,36.93 263.80,36.93" fill="none" stroke="#00ff00" stroke-width="1.1" stroke-linejoin="miter"/>
<polygon points="289.74,63.47 293.44,69.57 286.04,69.57" fill="none" stroke="#00ff00" stroke-width="1.1" stroke-linejoin="miter"/>
<polygon points="311.98,96.11 315.68,102.21 308.28,102.21" fill="none" stroke="#00ff00" stroke-width="1.1" stroke-linejoin="miter"/>
<polygon points="334.21,128.75 337.91,134.85 330.51,134.85" fill="none" stroke="#00ff00" stroke-width="1.1" stroke-linejoin="miter"/>
<polygon points="356.45,161.39 360.15,167.49 352.75,167.49" fill="none" stroke="#00ff00" stroke-width="1.1" stroke-linejoin="miter"/>
<polygon points="378.69,194.03 382.39,200.13 374.99,200.13" fill="none" stroke="#00ff00" stroke-width="1.1" stroke-linejoin="miter"/>
<polygon points="400.93,226.67 404.62,232.77 397.23,232.77" fill="none" stroke="#00ff00" stroke-width="1.1" stroke-linejoin="miter"/>
<polygon points="423.16,259.31 426.86,265.41 419.46,265.41" fill="none" stroke="#00ff00" stroke-width="1.1" stroke-linejoin="miter"/>
<polygon points="445.40,291.95 449.10,298.05 441.70,298.05" fill="none" stroke="#00ff00" stroke-width="1.1" stroke-linejoin="miter"/>
<polyline points="267.50,39.71 289.74,72.35 311.98,104.99 334.21,137.63 356.45,170.27 378.69,202.91 400.93,235.55 423.16,268.19 445.40,300.83" fill="none" stroke="#ff00ff" stroke-width="1.15"/>
<polygon points="267.50,35.31 270.70,39.71 267.50,44.11 264.30,39.71" fill="none" stroke="#ff00ff" stroke-width="1.1"/>
<polygon points="289.74,67.95 292.94,72.35 289.74,76.75 286.54,72.35" fill="none" stroke="#ff00ff" stroke-width="1.1"/>
<polygon points="311.98,100.59 315.18,104.99 311.98,109.39 308.78,104.99" fill="none" stroke="#ff00ff" stroke-width="1.1"/>
<polygon points="334.21,133.23 337.41,137.63 334.21,142.03 331.01,137.63" fill="none" stroke="#ff00ff" stroke-width="1.1"/>
<polygon points="356.45,165.87 359.65,170.27 356.45,174.67 353.25,170.27" fill="none" stroke="#ff00ff" stroke-width="1.1"/>
<polygon points="378.69,198.51 381.89,202.91 378.69,207.31 375.49,202.91" fill="none" stroke="#ff00ff" stroke-width="1.1"/>
<polygon points="400.93,231.15 404.12,235.55 400.93,239.95 397.73,235.55" fill="none" stroke="#ff00ff" stroke-width="1.1"/>
<polygon points="423.16,263.79 426.36,268.19 423.16,272.59 419.96,268.19" fill="none" stroke="#ff00ff" stroke-width="1.1"/>
<polygon points="445.40,296.43 448.60,300.83 445.40,305.23 442.20,300.83" fill="none" stroke="#ff00ff" stroke-width="1.1"/>
<line x1="503.10" y1="320.92" x2="680.00" y2="320.92" stroke="#d8d8d8" stroke-width="0.7" stroke-dasharray="0.9 1.3"/>
<line x1="503.10" y1="311.34" x2="680.00" y2="311.34" stroke="#d8d8d8" stroke-width="0.7" stroke-dasharray="0.9 1.3"/>
<line x1="503.10" y1="304.55" x2="680.00" y2="304.55" stroke="#d8d8d8" stroke-width="0.7" stroke-dasharray="0.9 1.3"/>
<line x1="503.10" y1="299.28" x2="680.00" y2="299.28" stroke="#d8d8d8" stroke-width="0.7" stroke-dasharray="0.9 1.3"/>
<line x1="503.10" y1="294.97" x2="680.00" y2="294.97" stroke="#d8d8d8" stroke-width="0.7" stroke-dasharray="0.9 1.3"/>
<line x1="503.10" y1="291.33" x2="680.00" y2="291.33" stroke="#d8d8d8" stroke-width="0.7" stroke-dasharray="0.9 1.3"/>
<line x1="503.10" y1="288.17" x2="680.00" y2="288.17" stroke="#d8d8d8" stroke-width="0.7" stroke-dasharray="0.9 1.3"/>
<line x1="503.10" y1="285.39" x2="680.00" y2="285.39" stroke="#d8d8d8" stroke-width="0.7" stroke-dasharray="0.9 1.3"/>
<line x1="503.10" y1="266.52" x2="680.00" y2="266.52" stroke="#d8d8d8" stroke-width="0.7" stroke-dasharray="0.9 1.3"/>
<line x1="503.10" y1="256.94" x2="680.00" y2="256.94" stroke="#d8d8d8" stroke-width="0.7" stroke-dasharray="0.9 1.3"/>
<line x1="503.10" y1="250.15" x2="680.00" y2="250.15" stroke="#d8d8d8" stroke-width="0.7" stroke-dasharray="0.9 1.3"/>
<line x1="503.10" y1="244.88" x2="680.00" y2="244.88" stroke="#d8d8d8" stroke-width="0.7" stroke-dasharray="0.9 1.3"/>
<line x1="503.10" y1="240.57" x2="680.00" y2="240.57" stroke="#d8d8d8" stroke-width="0.7" stroke-dasharray="0.9 1.3"/>
<line x1="503.10" y1="236.93" x2="680.00" y2="236.93" stroke="#d8d8d8" stroke-width="0.7" stroke-dasharray="0.9 1.3"/>
<line x1="503.10" y1="233.77" x2="680.00" y2="233.77" stroke="#d8d8d8" stroke-width="0.7" stroke-dasharray="0.9 1.3"/>
<line x1="503.10" y1="230.99" x2="680.00" y2="230.99" stroke="#d8d8d8" stroke-width="0.7" stroke-dasharray="0.9 1.3"/>
<line x1="503.10" y1="212.12" x2="680.00" y2="212.12" stroke="#d8d8d8" stroke-width="0.7" stroke-dasharray="0.9 1.3"/>
<line x1="503.10" y1="202.54" x2="680.00" y2="202.54" stroke="#d8d8d8" stroke-width="0.7" stroke-dasharray="0.9 1.3"/>
<line x1="503.10" y1="195.75" x2="680.00" y2="195.75" stroke="#d8d8d8" stroke-width="0.7" stroke-dasharray="0.9 1.3"/>
<line x1="503.10" y1="190.48" x2="680.00" y2="190.48" stroke="#d8d8d8" stroke-width="0.7" stroke-dasharray="0.9 1.3"/>
<line x1="503.10" y1="186.17" x2="680.00" y2="186.17" stroke="#d8d8d8" stroke-width="0.7" stroke-dasharray="0.9 1.3"/>
<line x1="503.10" y1="182.53" x2="680.00" y2="182.53" stroke="#d8d8d8" stroke-width="0.7" stroke-dasharray="0.9 1.3"/>
<line x1="503.10" y1="179.37" x2="680.00" y2="179.37" stroke="#d8d8d8" stroke-width="0.7" stroke-dasharray="0.9 1.3"/>
<line x1="503.10" y1="176.59" x2="680.00" y2="176.59" stroke="#d8d8d8" stroke-width="0.7" stroke-dasharray="0.9 1.3"/>
<line x1="503.10" y1="157.72" x2="680.00" y2="157.72" stroke="#d8d8d8" stroke-width="0.7" stroke-dasharray="0.9 1.3"/>
<line x1="503.10" y1="148.14" x2="680.00" y2="148.14" stroke="#d8d8d8" stroke-width="0.7" stroke-dasharray="0.9 1.3"/>
<line x1="503.10" y1="141.35" x2="680.00" y2="141.35" stroke="#d8d8d8" stroke-width="0.7" stroke-dasharray="0.9 1.3"/>
<line x1="503.10" y1="136.08" x2="680.00" y2="136.08" stroke="#d8d8d8" stroke-width="0.7" stroke-dasharray="0.9 1.3"/>
<line x1="503.10" y1="131.77" x2="680.00" y2="131.77" stroke="#d8d8d8" stroke-width="0.7" stroke-dasharray="0.9 1.3"/>
<line x1="503.10" y1="128.13" x2="680.00" y2="128.13" stroke="#d8d8d8" stroke-width="0.7" stroke-dasharray="0.9 1.3"/>
<line x1="503.10" y1="124.97" x2="680.00" y2="124.97" stroke="#d8d8d8" stroke-width="0.7" stroke-dasharray="0.9 1.3"/>
<line x1="503.10" y1="122.19" x2="680.00" y2="122.19" stroke="#d8d8d8" stroke-width="0.7" stroke-dasharray="0.9 1.3"/>
<line x1="503.10" y1="103.32" x2="680.00" y2="103.32" stroke="#d8d8d8" stroke-width="0.7" stroke-dasharray="0.9 1.3"/>
<line x1="503.10" y1="93.74" x2="680.00" y2="93.74" stroke="#d8d8d8" stroke-width="0.7" stroke-dasharray="0.9 1.3"/>
<line x1="503.10" y1="86.95" x2="680.00" y2="86.95" stroke="#d8d8d8" stroke-width="0.7" stroke-dasharray="0.9 1.3"/>
<line x1="503.10" y1="81.68" x2="680.00" y2="81.68" stroke="#d8d8d8" stroke-width="0.7" stroke-dasharray="0.9 1.3"/>
<line x1="503.10" y1="77.37" x2="680.00" y2="77.37" stroke="#d8d8d8" stroke-width="0.7" stroke-dasharray="0.9 1.3"/>
<line x1="503.10" y1="73.73" x2="680.00" y2="73.73" stroke="#d8d8d8" stroke-width="0.7" stroke-dasharray="0.9 1.3"/>
<line x1="503.10" y1="70.57" x2="680.00" y2="70.57" stroke="#d8d8d8" stroke-width="0.7" stroke-dasharray="0.9 1.3"/>
<line x1="503.10" y1="67.79" x2="680.00" y2="67.79" stroke="#d8d8d8" stroke-width="0.7" stroke-dasharray="0.9 1.3"/>
<line x1="503.10" y1="48.92" x2="680.00" y2="48.92" stroke="#d8d8d8" stroke-width="0.7" stroke-dasharray="0.9 1.3"/>
<line x1="503.10" y1="39.34" x2="680.00" y2="39.34" stroke="#d8d8d8" stroke-width="0.7" stroke-dasharray="0.9 1.3"/>
<line x1="503.10" y1="32.55" x2="680.00" y2="32.55" stroke="#d8d8d8" stroke-width="0.7" stroke-dasharray="0.9 1.3"/>
<line x1="503.10" y1="27.28" x2="680.00" y2="27.28" stroke="#d8d8d8" stroke-width="0.7" stroke-dasharray="0.9 1.3"/>
<line x1="503.10" y1="22.97" x2="680.00" y2="22.97" stroke="#d8d8d8" stroke-width="0.7" stroke-dasharray="0.9 1.3"/>
<line x1="503.10" y1="19.33" x2="680.00" y2="19.33" stroke="#d8d8d8" stroke-width="0.7" stroke-dasharray="0.9 1.3"/>
<line x1="503.10" y1="16.17" x2="680.00" y2="16.17" stroke="#d8d8d8" stroke-width="0.7" stroke-dasharray="0.9 1.3"/>
<line x1="503.10" y1="13.39" x2="680.00" y2="13.39" stroke="#d8d8d8" stroke-width="0.7" stroke-dasharray="0.9 1.3"/>
<line x1="502.10" y1="337.30" x2="680.00" y2="337.30" stroke="#eeeeee" stroke-width="1.2"/>
<line x1="502.10" y1="282.90" x2="680.00" y2="282.90" stroke="#eeeeee" stroke-width="1.2"/>
<line x1="502.10" y1="228.50" x2="680.00" y2="228.50" stroke="#eeeeee" stroke-width="1.2"/>
<line x1="502.10" y1="174.10" x2="680.00" y2="174.10" stroke="#eeeeee" stroke-width="1.2"/>
<line x1="502.10" y1="119.70" x2="680.00" y2="119.70" stroke="#eeeeee" stroke-width="1.2"/>
<line x1="502.10" y1="65.30" x2="680.00" y2="65.30" stroke="#eeeeee" stroke-width="1.2"/>
<line x1="502.10" y1="10.90" x2="680.00" y2="10.90" stroke="#eeeeee" stroke-width="1.2"/>
<line x1="546.50" y1="10.90" x2="546.50" y2="337.30" stroke="#eeeeee" stroke-width="1.1"/>
<line x1="591.25" y1="10.90" x2="591.25" y2="337.30" stroke="#eeeeee" stroke-width="1.1"/>
<line x1="635.50" y1="10.90" x2="635.50" y2="337.30" stroke="#eeeeee" stroke-width="1.1"/>
<line x1="680.00" y1="10.90" x2="680.00" y2="337.30" stroke="#eeeeee" stroke-width="1.1"/>
<line x1="502.10" y1="10.60" x2="502.10" y2="337.90" stroke="#7a7a7a" stroke-width="1.25"/>
<line x1="501.50" y1="337.40" x2="680.40" y2="337.40" stroke="#6e6e6e" stroke-width="1.6"/>
<line x1="502.10" y1="337.30" x2="505.60" y2="337.30" stroke="#5a5a5a" stroke-width="1.1"/>
<line x1="502.10" y1="320.92" x2="504.00" y2="320.92" stroke="#5a5a5a" stroke-width="1.1"/>
<line x1="502.10" y1="311.34" x2="504.00" y2="311.34" stroke="#5a5a5a" stroke-width="1.1"/>
<line x1="502.10" y1="304.55" x2="504.00" y2="304.55" stroke="#5a5a5a" stroke-width="1.1"/>
<line x1="502.10" y1="299.28" x2="504.00" y2="299.28" stroke="#5a5a5a" stroke-width="1.1"/>
<line x1="502.10" y1="294.97" x2="504.00" y2="294.97" stroke="#5a5a5a" stroke-width="1.1"/>
<line x1="502.10" y1="291.33" x2="504.00" y2="291.33" stroke="#5a5a5a" stroke-width="1.1"/>
<line x1="502.10" y1="288.17" x2="504.00" y2="288.17" stroke="#5a5a5a" stroke-width="1.1"/>
<line x1="502.10" y1="285.39" x2="504.00" y2="285.39" stroke="#5a5a5a" stroke-width="1.1"/>
<text x="497.80" y="342.40" text-anchor="end" font-size="8.8" fill="#262626" color="#262626">10<tspan font-size="6.6" dy="-4.2"><tspan style="stroke-width:0.55px">-</tspan>4</tspan></text>
<line x1="502.10" y1="282.90" x2="505.60" y2="282.90" stroke="#5a5a5a" stroke-width="1.1"/>
<line x1="502.10" y1="266.52" x2="504.00" y2="266.52" stroke="#5a5a5a" stroke-width="1.1"/>
<line x1="502.10" y1="256.94" x2="504.00" y2="256.94" stroke="#5a5a5a" stroke-width="1.1"/>
<line x1="502.10" y1="250.15" x2="504.00" y2="250.15" stroke="#5a5a5a" stroke-width="1.1"/>
<line x1="502.10" y1="244.88" x2="504.00" y2="244.88" stroke="#5a5a5a" stroke-width="1.1"/>
<line x1="502.10" y1="240.57" x2="504.00" y2="240.57" stroke="#5a5a5a" stroke-width="1.1"/>
<line x1="502.10" y1="236.93" x2="504.00" y2="236.93" stroke="#5a5a5a" stroke-width="1.1"/>
<line x1="502.10" y1="233.77" x2="504.00" y2="233.77" stroke="#5a5a5a" stroke-width="1.1"/>
<line x1="502.10" y1="230.99" x2="504.00" y2="230.99" stroke="#5a5a5a" stroke-width="1.1"/>
<text x="497.80" y="288.00" text-anchor="end" font-size="8.8" fill="#262626" color="#262626">10<tspan font-size="6.6" dy="-4.2"><tspan style="stroke-width:0.55px">-</tspan>3</tspan></text>
<line x1="502.10" y1="228.50" x2="505.60" y2="228.50" stroke="#5a5a5a" stroke-width="1.1"/>
<line x1="502.10" y1="212.12" x2="504.00" y2="212.12" stroke="#5a5a5a" stroke-width="1.1"/>
<line x1="502.10" y1="202.54" x2="504.00" y2="202.54" stroke="#5a5a5a" stroke-width="1.1"/>
<line x1="502.10" y1="195.75" x2="504.00" y2="195.75" stroke="#5a5a5a" stroke-width="1.1"/>
<line x1="502.10" y1="190.48" x2="504.00" y2="190.48" stroke="#5a5a5a" stroke-width="1.1"/>
<line x1="502.10" y1="186.17" x2="504.00" y2="186.17" stroke="#5a5a5a" stroke-width="1.1"/>
<line x1="502.10" y1="182.53" x2="504.00" y2="182.53" stroke="#5a5a5a" stroke-width="1.1"/>
<line x1="502.10" y1="179.37" x2="504.00" y2="179.37" stroke="#5a5a5a" stroke-width="1.1"/>
<line x1="502.10" y1="176.59" x2="504.00" y2="176.59" stroke="#5a5a5a" stroke-width="1.1"/>
<text x="497.80" y="233.60" text-anchor="end" font-size="8.8" fill="#262626" color="#262626">10<tspan font-size="6.6" dy="-4.2"><tspan style="stroke-width:0.55px">-</tspan>2</tspan></text>
<line x1="502.10" y1="174.10" x2="505.60" y2="174.10" stroke="#5a5a5a" stroke-width="1.1"/>
<line x1="502.10" y1="157.72" x2="504.00" y2="157.72" stroke="#5a5a5a" stroke-width="1.1"/>
<line x1="502.10" y1="148.14" x2="504.00" y2="148.14" stroke="#5a5a5a" stroke-width="1.1"/>
<line x1="502.10" y1="141.35" x2="504.00" y2="141.35" stroke="#5a5a5a" stroke-width="1.1"/>
<line x1="502.10" y1="136.08" x2="504.00" y2="136.08" stroke="#5a5a5a" stroke-width="1.1"/>
<line x1="502.10" y1="131.77" x2="504.00" y2="131.77" stroke="#5a5a5a" stroke-width="1.1"/>
<line x1="502.10" y1="128.13" x2="504.00" y2="128.13" stroke="#5a5a5a" stroke-width="1.1"/>
<line x1="502.10" y1="124.97" x2="504.00" y2="124.97" stroke="#5a5a5a" stroke-width="1.1"/>
<line x1="502.10" y1="122.19" x2="504.00" y2="122.19" stroke="#5a5a5a" stroke-width="1.1"/>
<text x="497.80" y="179.20" text-anchor="end" font-size="8.8" fill="#262626" color="#262626">10<tspan font-size="6.6" dy="-4.2"><tspan style="stroke-width:0.55px">-</tspan>1</tspan></text>
<line x1="502.10" y1="119.70" x2="505.60" y2="119.70" stroke="#5a5a5a" stroke-width="1.1"/>
<line x1="502.10" y1="103.32" x2="504.00" y2="103.32" stroke="#5a5a5a" stroke-width="1.1"/>
<line x1="502.10" y1="93.74" x2="504.00" y2="93.74" stroke="#5a5a5a" stroke-width="1.1"/>
<line x1="502.10" y1="86.95" x2="504.00" y2="86.95" stroke="#5a5a5a" stroke-width="1.1"/>
<line x1="502.10" y1="81.68" x2="504.00" y2="81.68" stroke="#5a5a5a" stroke-width="1.1"/>
<line x1="502.10" y1="77.37" x2="504.00" y2="77.37" stroke="#5a5a5a" stroke-width="1.1"/>
<line x1="502.10" y1="73.73" x2="504.00" y2="73.73" stroke="#5a5a5a" stroke-width="1.1"/>
<line x1="502.10" y1="70.57" x2="504.00" y2="70.57" stroke="#5a5a5a" stroke-width="1.1"/>
<line x1="502.10" y1="67.79" x2="504.00" y2="67.79" stroke="#5a5a5a" stroke-width="1.1"/>
<text x="497.80" y="124.80" text-anchor="end" font-size="8.8" fill="#262626" color="#262626">10<tspan font-size="6.6" dy="-4.2">0</tspan></text>
<line x1="502.10" y1="65.30" x2="505.60" y2="65.30" stroke="#5a5a5a" stroke-width="1.1"/>
<line x1="502.10" y1="48.92" x2="504.00" y2="48.92" stroke="#5a5a5a" stroke-width="1.1"/>
<line x1="502.10" y1="39.34" x2="504.00" y2="39.34" stroke="#5a5a5a" stroke-width="1.1"/>
<line x1="502.10" y1="32.55" x2="504.00" y2="32.55" stroke="#5a5a5a" stroke-width="1.1"/>
<line x1="502.10" y1="27.28" x2="504.00" y2="27.28" stroke="#5a5a5a" stroke-width="1.1"/>
<line x1="502.10" y1="22.97" x2="504.00" y2="22.97" stroke="#5a5a5a" stroke-width="1.1"/>
<line x1="502.10" y1="19.33" x2="504.00" y2="19.33" stroke="#5a5a5a" stroke-width="1.1"/>
<line x1="502.10" y1="16.17" x2="504.00" y2="16.17" stroke="#5a5a5a" stroke-width="1.1"/>
<line x1="502.10" y1="13.39" x2="504.00" y2="13.39" stroke="#5a5a5a" stroke-width="1.1"/>
<text x="497.80" y="70.40" text-anchor="end" font-size="8.8" fill="#262626" color="#262626">10<tspan font-size="6.6" dy="-4.2">1</tspan></text>
<line x1="502.10" y1="10.90" x2="505.60" y2="10.90" stroke="#5a5a5a" stroke-width="1.1"/>
<text x="497.80" y="16.00" text-anchor="end" font-size="8.8" fill="#262626" color="#262626">10<tspan font-size="6.6" dy="-4.2">2</tspan></text>
<line x1="502.10" y1="337.30" x2="502.10" y2="333.70" stroke="#5a5a5a" stroke-width="1.1"/>
<text x="502.10" y="349.50" text-anchor="middle" font-size="8.8" fill="#262626" color="#262626">-10</text>
<line x1="546.50" y1="337.30" x2="546.50" y2="333.70" stroke="#5a5a5a" stroke-width="1.1"/>
<text x="546.50" y="349.50" text-anchor="middle" font-size="8.8" fill="#262626" color="#262626">0</text>
<line x1="591.25" y1="337.30" x2="591.25" y2="333.70" stroke="#5a5a5a" stroke-width="1.1"/>
<text x="591.25" y="349.50" text-anchor="middle" font-size="8.8" fill="#262626" color="#262626">10</text>
<line x1="635.50" y1="337.30" x2="635.50" y2="333.70" stroke="#5a5a5a" stroke-width="1.1"/>
<text x="635.50" y="349.50" text-anchor="middle" font-size="8.8" fill="#262626" color="#262626">20</text>
<line x1="680.00" y1="337.30" x2="680.00" y2="333.70" stroke="#5a5a5a" stroke-width="1.1"/>
<text x="680.00" y="349.50" text-anchor="middle" font-size="8.8" fill="#262626" color="#262626">30</text>
<text x="591.05" y="362.6" text-anchor="middle" font-size="9.8" fill="#262626" color="#262626">SNR (dB)</text>
<text transform="translate(476.60,174.10) rotate(-90)" text-anchor="middle" font-size="9.8" fill="#262626" color="#262626">NMSE</text>
<text x="590.55" y="7.1" text-anchor="middle" font-size="9.55" font-weight="bold" fill="#000" color="#000"><tspan font-family="Liberation Serif" font-style="italic" font-weight="normal" font-size="10.6" dy="0.8">α</tspan><tspan dy="-0.8" dx="1.0"> = 4, Interf = 20 dB</tspan></text>
<polyline points="502.10,63.55 524.34,90.75 546.58,117.95 568.81,145.15 591.05,172.35 613.29,199.55 635.53,226.75 657.76,253.95 680.00,281.15" fill="none" stroke="#0000ff" stroke-width="1.15" stroke-dasharray="3.8 3.25" stroke-dashoffset="0.6"/>
<circle cx="502.10" cy="63.55" r="3.15" fill="none" stroke="#0000ff" stroke-width="1.1"/>
<circle cx="524.34" cy="90.75" r="3.15" fill="none" stroke="#0000ff" stroke-width="1.1"/>
<circle cx="546.58" cy="117.95" r="3.15" fill="none" stroke="#0000ff" stroke-width="1.1"/>
<circle cx="568.81" cy="145.15" r="3.15" fill="none" stroke="#0000ff" stroke-width="1.1"/>
<circle cx="591.05" cy="172.35" r="3.15" fill="none" stroke="#0000ff" stroke-width="1.1"/>
<circle cx="613.29" cy="199.55" r="3.15" fill="none" stroke="#0000ff" stroke-width="1.1"/>
<circle cx="635.53" cy="226.75" r="3.15" fill="none" stroke="#0000ff" stroke-width="1.1"/>
<circle cx="657.76" cy="253.95" r="3.15" fill="none" stroke="#0000ff" stroke-width="1.1"/>
<circle cx="680.00" cy="281.15" r="3.15" fill="none" stroke="#0000ff" stroke-width="1.1"/>
<polyline points="502.10,70.28 524.34,97.48 546.58,124.68 568.81,151.88 591.05,179.08 613.29,206.28 635.53,233.48 657.76,260.68 680.00,287.88" fill="none" stroke="#ff0000" stroke-width="1.15" stroke-dasharray="1.4 0.45"/>
<rect x="499.75" y="67.93" width="4.7" height="4.7" fill="none" stroke="#ff0000" stroke-width="1.1"/>
<rect x="521.99" y="95.13" width="4.7" height="4.7" fill="none" stroke="#ff0000" stroke-width="1.1"/>
<rect x="544.23" y="122.33" width="4.7" height="4.7" fill="none" stroke="#ff0000" stroke-width="1.1"/>
<rect x="566.46" y="149.53" width="4.7" height="4.7" fill="none" stroke="#ff0000" stroke-width="1.1"/>
<rect x="588.70" y="176.73" width="4.7" height="4.7" fill="none" stroke="#ff0000" stroke-width="1.1"/>
<rect x="610.94" y="203.93" width="4.7" height="4.7" fill="none" stroke="#ff0000" stroke-width="1.1"/>
<rect x="633.18" y="231.13" width="4.7" height="4.7" fill="none" stroke="#ff0000" stroke-width="1.1"/>
<rect x="655.41" y="258.33" width="4.7" height="4.7" fill="none" stroke="#ff0000" stroke-width="1.1"/>
<rect x="677.65" y="285.53" width="4.7" height="4.7" fill="none" stroke="#ff0000" stroke-width="1.1"/>
<polyline points="502.10,75.66 524.34,102.86 546.58,130.06 568.81,157.26 591.05,184.46 613.29,211.66 635.53,238.86 657.76,266.06 680.00,293.26" fill="none" stroke="#00ff00" stroke-width="1.15" stroke-dasharray="1 0.65"/>
<polygon points="502.10,71.66 505.80,77.76 498.40,77.76" fill="none" stroke="#00ff00" stroke-width="1.1" stroke-linejoin="miter"/>
<polygon points="524.34,98.86 528.04,104.96 520.64,104.96" fill="none" stroke="#00ff00" stroke-width="1.1" stroke-linejoin="miter"/>
<polygon points="546.58,126.06 550.28,132.16 542.88,132.16" fill="none" stroke="#00ff00" stroke-width="1.1" stroke-linejoin="miter"/>
<polygon points="568.81,153.26 572.51,159.36 565.11,159.36" fill="none" stroke="#00ff00" stroke-width="1.1" stroke-linejoin="miter"/>
<polygon points="591.05,180.46 594.75,186.56 587.35,186.56" fill="none" stroke="#00ff00" stroke-width="1.1" stroke-linejoin="miter"/>
<polygon points="613.29,207.66 616.99,213.76 609.59,213.76" fill="none" stroke="#00ff00" stroke-width="1.1" stroke-linejoin="miter"/>
<polygon points="635.53,234.86 639.23,240.96 631.83,240.96" fill="none" stroke="#00ff00" stroke-width="1.1" stroke-linejoin="miter"/>
<polygon points="657.76,262.06 661.46,268.16 654.06,268.16" fill="none" stroke="#00ff00" stroke-width="1.1" stroke-linejoin="miter"/>
<polygon points="680.00,289.26 683.70,295.36 676.30,295.36" fill="none" stroke="#00ff00" stroke-width="1.1" stroke-linejoin="miter"/>
<polyline points="502.10,79.73 524.34,106.93 546.58,134.13 568.81,161.33 591.05,188.53 613.29,215.73 635.53,242.93 657.76,270.13 680.00,297.33" fill="none" stroke="#ff00ff" stroke-width="1.15"/>
<polygon points="502.10,75.33 505.30,79.73 502.10,84.13 498.90,79.73" fill="none" stroke="#ff00ff" stroke-width="1.1"/>
<polygon points="524.34,102.53 527.54,106.93 524.34,111.33 521.14,106.93" fill="none" stroke="#ff00ff" stroke-width="1.1"/>
<polygon points="546.58,129.73 549.78,134.13 546.58,138.53 543.38,134.13" fill="none" stroke="#ff00ff" stroke-width="1.1"/>
<polygon points="568.81,156.93 572.01,161.33 568.81,165.73 565.61,161.33" fill="none" stroke="#ff00ff" stroke-width="1.1"/>
<polygon points="591.05,184.13 594.25,188.53 591.05,192.93 587.85,188.53" fill="none" stroke="#ff00ff" stroke-width="1.1"/>
<polygon points="613.29,211.33 616.49,215.73 613.29,220.13 610.09,215.73" fill="none" stroke="#ff00ff" stroke-width="1.1"/>
<polygon points="635.53,238.53 638.73,242.93 635.53,247.33 632.33,242.93" fill="none" stroke="#ff00ff" stroke-width="1.1"/>
<polygon points="657.76,265.73 660.96,270.13 657.76,274.53 654.56,270.13" fill="none" stroke="#ff00ff" stroke-width="1.1"/>
<polygon points="680.00,292.93 683.20,297.33 680.00,301.73 676.80,297.33" fill="none" stroke="#ff00ff" stroke-width="1.1"/>
<rect x="337.5" y="25.3" width="83.10" height="43.25" fill="#fff" stroke="#9a9a9a" stroke-width="1.2"/>
<line x1="340.1" y1="31.4" x2="366.9" y2="31.4" stroke="#0000ff" stroke-width="1.15" stroke-dasharray="3.7 3.2"/>
<circle cx="353.40" cy="31.40" r="3.15" fill="none" stroke="#0000ff" stroke-width="1.1"/>
<text x="368.6" y="34.60" font-size="7.85" fill="#000" color="#000">MMSE</text>
<line x1="340.1" y1="41.8" x2="366.9" y2="41.8" stroke="#ff0000" stroke-width="1.15" stroke-dasharray="4.2 0.9 0.8 1.1"/>
<rect x="351.05" y="39.45" width="4.7" height="4.7" fill="none" stroke="#ff0000" stroke-width="1.1"/>
<text x="368.6" y="45.00" font-size="7.85" fill="#000" color="#000">Hybrid-OMP</text>
<line x1="340.1" y1="52.3" x2="366.9" y2="52.3" stroke="#00ff00" stroke-width="1.15" stroke-dasharray="1 1.1"/>
<polygon points="353.40,48.30 357.10,54.40 349.70,54.40" fill="none" stroke="#00ff00" stroke-width="1.1" stroke-linejoin="miter"/>
<text x="368.6" y="55.50" font-size="7.85" fill="#000" color="#000">AHF-SOMP</text>
<line x1="340.1" y1="62.6" x2="366.9" y2="62.6" stroke="#ff00ff" stroke-width="1.15"/>
<polygon points="353.40,58.20 356.60,62.60 353.40,67.00 350.20,62.60" fill="none" stroke="#ff00ff" stroke-width="1.1"/>
<text x="368.6" y="65.80" font-size="7.85" fill="#000" color="#000">WDHF-SOMP</text>
</svg>
</body></html>
